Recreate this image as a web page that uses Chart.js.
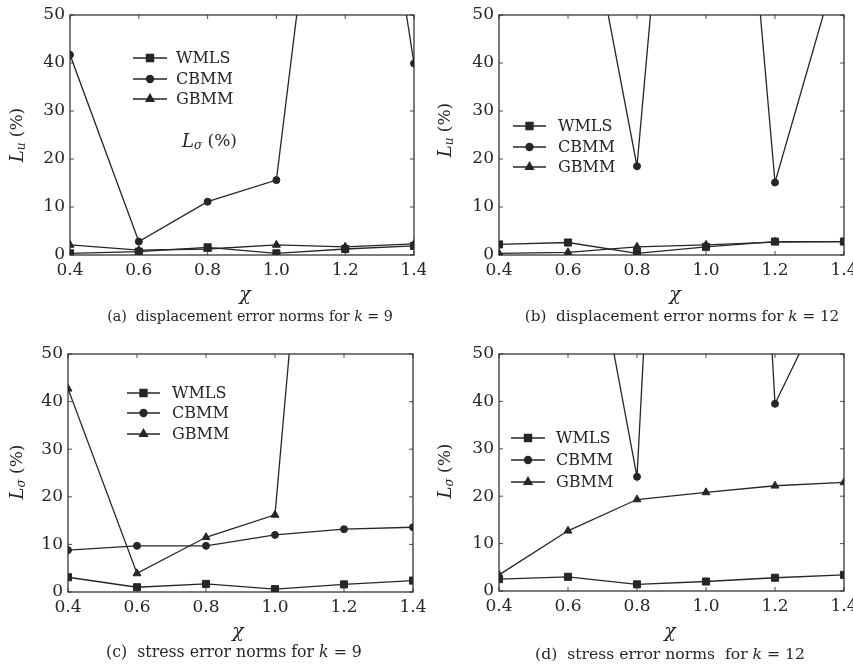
<!DOCTYPE html>
<html>
<head>
<meta charset="utf-8">
<script src="https://cdn.jsdelivr.net/npm/chart.js@4.4.0/dist/chart.umd.min.js"></script>
<style>
  body { margin: 0; background: #fff; }
  #wrap { position: relative; width: 853px; height: 669px; }
  canvas { position: absolute; }
</style>
</head>
<body>
<div id="wrap">
  <canvas id="chartA" width="426" height="330" style="left:0;top:0"></canvas>
  <canvas id="chartB" width="427" height="330" style="left:426px;top:0"></canvas>
  <canvas id="chartC" width="426" height="339" style="left:0;top:330px"></canvas>
  <canvas id="chartD" width="427" height="339" style="left:426px;top:330px"></canvas>
</div>
<script>
// DATA
const chi = [0.4, 0.6, 0.8, 1.0, 1.2, 1.4];
const xTicks = [0.4, 0.6, 0.8, 1.0, 1.2, 1.4];
const yTicks = [0, 10, 20, 30, 40, 50];
const seriesNames = ["WMLS", "CBMM", "GBMM"];

// (a) displacement error, k = 9
const wmlsDisp9 = [0.35, 0.7, 1.6, 0.35, 1.25, 1.9];
const cbmmDisp9 = [41.7, 2.8, 11.1, 15.6, 132, 39.9];
const gbmmDisp9 = [2.1, 1.0, 1.25, 2.1, 1.7, 2.3];

// (b) displacement error, k = 12
const wmlsDisp12 = [2.2, 2.6, 0.35, 1.7, 2.8, 2.8];
const cbmmDisp12 = [150, 94, 18.5, 180, 15.1, 65];
const gbmmDisp12 = [0.35, 0.55, 1.7, 2.1, 2.7, 2.8];

// (c) stress error, k = 9
const wmlsStress9 = [3.1, 1.0, 1.7, 0.6, 1.6, 2.4];
const cbmmStress9 = [8.8, 9.7, 9.7, 12.0, 13.2, 13.6];
const gbmmStress9 = [42.7, 3.9, 11.5, 16.2, 181, 200];

// (d) stress error, k = 12
const wmlsStress12 = [2.5, 3.0, 1.4, 2.0, 2.8, 3.4];
const cbmmStress12 = [150, 102, 24.1, 300, 39.5, 69.5];
const gbmmStress12 = [3.4, 12.7, 19.3, 20.8, 22.2, 22.9];

const markerStyles = ["rect", "circle", "triangle"];
const markerSizes = [5, 3.5, 4.6];
const ink = "#262626";
const serif = "'DejaVu Serif', serif";

// draws a run of text pieces (normal / italic / subscript) in a row
function drawRich(ctx, segs, x, y, align) {
  let total = 0;
  segs.forEach(s => {
    ctx.font = (s.italic ? "italic " : "") + s.size + "px " + serif;
    s.w = ctx.measureText(s.t).width;
    total += s.w;
  });
  let cx = align === "center" ? x - total / 2 : x;
  segs.forEach(s => {
    ctx.font = (s.italic ? "italic " : "") + s.size + "px " + serif;
    ctx.fillText(s.t, cx, y + (s.dy || 0));
    cx += s.w;
  });
  return total;
}

function figurePlugin(panel) {
  return {
    id: "figureText",
    afterDraw(chart) {
      const ctx = chart.ctx;
      const area = chart.chartArea;
      const xs = chart.scales.x, ys = chart.scales.y;
      ctx.save();
      ctx.strokeStyle = ink;
      ctx.fillStyle = ink;
      ctx.lineWidth = 1.2;

      // frame + small inward ticks
      ctx.strokeRect(area.left, area.top, area.right - area.left, area.bottom - area.top);
      ctx.lineWidth = 0.8;
      ctx.beginPath();
      xTicks.forEach(v => {
        const px = xs.getPixelForValue(v);
        ctx.moveTo(px, area.bottom); ctx.lineTo(px, area.bottom - 4);
        ctx.moveTo(px, area.top); ctx.lineTo(px, area.top + 4);
      });
      yTicks.forEach(v => {
        const py = ys.getPixelForValue(v);
        ctx.moveTo(area.left, py); ctx.lineTo(area.left + 4, py);
        ctx.moveTo(area.right, py); ctx.lineTo(area.right - 4, py);
      });
      ctx.stroke();

      // legend
      const lg = panel.legend;
      ctx.textBaseline = "middle";
      chart.data.datasets.forEach((ds, i) => {
        const y = lg.rows[i];
        ctx.lineWidth = 1.3;
        ctx.beginPath();
        ctx.moveTo(lg.x0, y); ctx.lineTo(lg.x1, y);
        ctx.stroke();
        Chart.helpers.drawPoint(ctx, {
          pointStyle: ds.pointStyle, radius: ds.pointRadius, borderWidth: 1, rotation: 0
        }, (lg.x0 + lg.x1) / 2, y);
        ctx.font = "16px " + serif;
        ctx.fillText(ds.label, lg.tx, y + 1);
      });

      // y axis title, rotated
      ctx.save();
      ctx.translate(panel.yTitle[0], panel.yTitle[1]);
      ctx.rotate(-Math.PI / 2);
      drawRich(ctx, [
        { t: "L", italic: true, size: 18 },
        { t: panel.sub, italic: true, size: 12, dy: 4 },
        { t: " (%)", size: 17 }
      ], 0, 0, "center");
      ctx.restore();

      // x axis title
      drawRich(ctx, [{ t: "χ", italic: true, size: 19 }], panel.xTitle[0], panel.xTitle[1], "center");

      // caption, sized to its width in the reference
      const cap = [
        { t: panel.caption[0], size: 14 },
        { t: "k", italic: true, size: 14 },
        { t: panel.caption[1], size: 14 }
      ];
      ctx.globalAlpha = 0;
      const w = drawRich(ctx, cap, 0, 0, "left");
      ctx.globalAlpha = 1;
      const size = Math.max(11, Math.min(17, 14 * panel.capWidth / w));
      cap.forEach(s => s.size = size);
      drawRich(ctx, cap, panel.capPos[0], panel.capPos[1], "center");

      // stray label printed inside panel (a)
      if (panel.extra) {
        drawRich(ctx, [
          { t: "L", italic: true, size: 18 },
          { t: "σ", italic: true, size: 12, dy: 4 },
          { t: " (%)", size: 17 }
        ], panel.extra[0], panel.extra[1], "left");
      }
      ctx.restore();
    }
  };
}

function makeChart(id, panel) {
  const canvas = document.getElementById(id);
  const W = canvas.width, H = canvas.height;
  const a = panel.area;
  return new Chart(canvas, {
    type: "line",
    data: {
      datasets: panel.series.map((vals, i) => ({
        label: seriesNames[i],
        data: chi.map((x, j) => ({ x: x, y: vals[j] })),
        borderColor: ink,
        backgroundColor: ink,
        borderWidth: 1.3,
        pointStyle: markerStyles[i],
        pointRadius: markerSizes[i],
        pointBorderWidth: 1,
        tension: 0
      }))
    },
    options: {
      responsive: false,
      animation: false,
      events: [],
      layout: {
        autoPadding: false,
        padding: { left: a.left - 40, right: W - a.right, top: a.top, bottom: H - a.bottom - 24 }
      },
      plugins: { legend: { display: false }, tooltip: { enabled: false } },
      scales: {
        x: {
          type: "linear", min: 0.4, max: 1.4,
          afterBuildTicks: s => { s.ticks = xTicks.map(v => ({ value: v })); },
          afterFit: s => { s.height = 24; s.paddingLeft = 0; s.paddingRight = 0; },
          grid: { display: false, drawTicks: false },
          border: { display: false },
          ticks: { padding: 5, color: ink, font: { family: serif, size: 17 }, maxRotation: 0,
                   callback: v => v.toFixed(1) }
        },
        y: {
          type: "linear", min: 0, max: 50,
          afterBuildTicks: s => { s.ticks = yTicks.map(v => ({ value: v })); },
          afterFit: s => { s.width = 40; s.paddingTop = 0; s.paddingBottom = 0; },
          grid: { display: false, drawTicks: false },
          border: { display: false },
          ticks: { padding: 5, color: ink, font: { family: serif, size: 17 },
                   callback: v => String(v) }
        }
      }
    },
    plugins: [figurePlugin(panel)]
  });
}

makeChart("chartA", {
  series: [wmlsDisp9, cbmmDisp9, gbmmDisp9],
  area: { left: 70, right: 414, top: 15, bottom: 255 },
  legend: { x0: 133, x1: 167, tx: 176, rows: [58, 79, 99] },
  sub: "u", yTitle: [18, 135], xTitle: [245, 295],
  caption: ["(a)  displacement error norms for ", " = 9"], capPos: [250, 317], capWidth: 286,
  extra: [182, 142]
});

makeChart("chartB", {
  series: [wmlsDisp12, cbmmDisp12, gbmmDisp12],
  area: { left: 73, right: 418, top: 15, bottom: 255 },
  legend: { x0: 87, x1: 120, tx: 132, rows: [126, 147, 167] },
  sub: "u", yTitle: [20, 130], xTitle: [249, 295],
  caption: ["(b)  displacement error norms for ", " = 12"], capPos: [256, 317], capWidth: 315
});

makeChart("chartC", {
  series: [wmlsStress9, cbmmStress9, gbmmStress9],
  area: { left: 68, right: 413, top: 24, bottom: 262 },
  legend: { x0: 127, x1: 160, tx: 172, rows: [63, 83, 104] },
  sub: "σ", yTitle: [18, 142], xTitle: [238, 302],
  caption: ["(c)  stress error norms for ", " = 9"], capPos: [234, 323], capWidth: 256
});

makeChart("chartD", {
  series: [wmlsStress12, cbmmStress12, gbmmStress12],
  area: { left: 73, right: 418, top: 24, bottom: 261 },
  legend: { x0: 85, x1: 119, tx: 130, rows: [108, 130, 152] },
  sub: "σ", yTitle: [20, 141], xTitle: [244, 302],
  caption: ["(d)  stress error norms  for ", " = 12"], capPos: [244, 325], capWidth: 270
});
</script>
</body>
</html>
